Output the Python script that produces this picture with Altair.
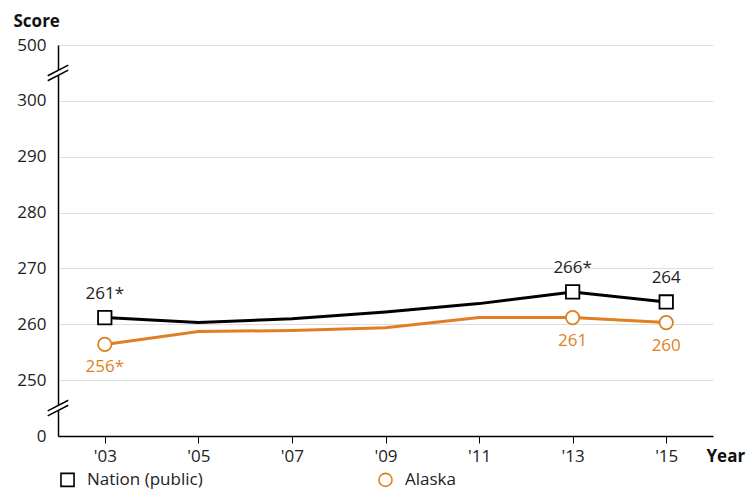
import altair as alt
import pandas as pd

years = [2003, 2005, 2007, 2009, 2011, 2013, 2015]
nation = [261.2, 260.3, 261.0, 262.2, 263.7, 265.8, 264.0]
alaska = [256.4, 258.7, 258.9, 259.4, 261.2, 261.2, 260.3]
nation_labels = ["261*", "", "", "", "", "266*", "264"]
alaska_labels = ["256*", "", "", "", "", "261", "260"]
series = ["Nation (public)", "Alaska"]
colors = ["#000000", "#df7f22"]
shapes = ["square", "circle"]
tick_scores = [0, 250, 260, 270, 280, 290, 300, 500]
FONT = "Open Sans"


def to_pos(v):
    # broken scale: 0 | 250..300 | 500
    if v <= 0:
        return 0.0
    if v >= 500:
        return 70.0
    return 10.0 + (v - 250.0)


rows = []
for s, vals, labs in [(series[0], nation, nation_labels), (series[1], alaska, alaska_labels)]:
    for y, v, l in zip(years, vals, labs):
        rows.append({"year": y, "series": s, "score": v, "pos": to_pos(v), "label": l})
df = pd.DataFrame(rows)

# axis-break marks on the y axis (between 300 and 500, and between 0 and 250)
brk = []
for c in [(to_pos(300) + to_pos(500)) / 2, (to_pos(0) + to_pos(250)) / 2]:
    brk.append({"x": 2001.8, "x2": 2002.2, "y": c - 0.95, "y2": c + 0.95, "c": "white", "w": 5})
    for off in (-0.45, 0.45):
        brk.append({"x": 2001.78, "x2": 2002.22, "y": c + off - 0.95, "y2": c + off + 0.95, "c": "black", "w": 1.5})
bdf = pd.DataFrame(brk)

xscale = alt.Scale(domain=[2002, 2016], nice=False, zero=False)
yscale = alt.Scale(domain=[0, 70], nice=False, zero=False)

x_axis = alt.Axis(
    values=years,
    labelExpr="\"'\" + slice(format(datum.value, 'd'), 2)",
    grid=False,
    tickSize=7,
    tickColor="black",
    tickWidth=1,
    labelPadding=5,
    title="Year",
    titleX=648,
    titleY=25,
    titleAlign="left",
    titleBaseline="alphabetic",
)
y_axis = alt.Axis(
    values=[to_pos(t) for t in tick_scores],
    labelExpr="datum.value == 70 ? '500' : datum.value == 0 ? '0' : format(datum.value + 240, 'd')",
    ticks=False,
    tickSize=0,
    labelPadding=12,
    grid=True,
    title="Score",
    titleAngle=0,
    titleX=-45,
    titleY=-19,
    titleAlign="left",
    titleBaseline="alphabetic",
)

legend = alt.Legend(title=None, orient="none", legendX=1, legendY=426,
                    direction="horizontal", columns=2, columnPadding=172,
                    labelFontSize=17, labelFont=FONT, labelColor="#222",
                    labelOffset=11, symbolSize=170, symbolStrokeWidth=1.6,
                    symbolFillColor="white", padding=0)

base = alt.Chart(df)

line_layers = []
for i, s in enumerate(series):
    line_layers.append(
        base.transform_filter(alt.datum.series == s).mark_line(strokeWidth=3, color=colors[i]).encode(
            x=alt.X("year:Q", scale=xscale, axis=x_axis),
            y=alt.Y("pos:Q", scale=yscale, axis=y_axis),
        )
    )

points = base.transform_filter(alt.datum.label != "").mark_point(
    fill="white", fillOpacity=1, opacity=1, strokeWidth=1.8, size=180
).encode(
    x=alt.X("year:Q", scale=xscale),
    y=alt.Y("pos:Q", scale=yscale),
    stroke=alt.Stroke("series:N", scale=alt.Scale(domain=series, range=colors), legend=legend),
    shape=alt.Shape("series:N", scale=alt.Scale(domain=series, range=shapes), legend=legend),
)

text_above = base.transform_filter(alt.datum.series == series[0]).mark_text(
    baseline="bottom", dy=-15, fontSize=17, font=FONT, color="#222"
).encode(x=alt.X("year:Q", scale=xscale), y=alt.Y("pos:Q", scale=yscale), text="label:N")

text_below = base.transform_filter(alt.datum.series == series[1]).mark_text(
    baseline="top", dy=15, fontSize=17, font=FONT, color=colors[1]
).encode(x=alt.X("year:Q", scale=xscale), y=alt.Y("pos:Q", scale=yscale), text="label:N")

breaks = alt.Chart(bdf).mark_rule().encode(
    x=alt.X("x:Q", scale=xscale),
    x2="x2:Q",
    y=alt.Y("y:Q", scale=yscale),
    y2="y2:Q",
    color=alt.Color("c:N", scale=None),
    strokeWidth=alt.StrokeWidth("w:Q", scale=None),
)

chart = alt.layer(*line_layers, points, text_above, text_below, breaks).properties(
    width=655, height=391,
    autosize=alt.AutoSizeParams(type="none"),
    padding={"left": 50, "top": 37, "right": 33, "bottom": 54},
).configure_view(stroke=None).configure_axis(
    labelFont=FONT, labelFontSize=17, labelColor="#222",
    titleFont=FONT, titleFontSize=17, titleFontWeight="bold", titleColor="#111",
    domainColor="black", domainWidth=1.5,
    gridColor="#dedede", gridWidth=1,
)

chart.save("out.html", embed_options={"renderer": "svg", "actions": False})
